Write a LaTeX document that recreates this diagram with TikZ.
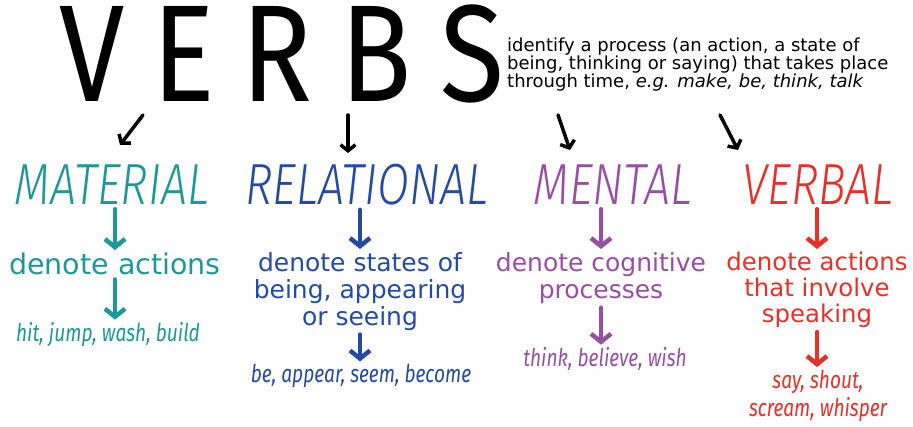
\documentclass[tikz,border=0pt]{standalone}
\usepackage{fontspec}
\setmainfont{DejaVu Sans}
\newfontfamily\headfont{Fira Sans Light Italic}[FakeStretch=0.8]
\newfontfamily\exfont{Fira Sans Italic}[FakeStretch=0.78]
\newfontfamily\bigfont{Fira Sans}[FakeStretch=0.85]
\usetikzlibrary{arrows.meta}

\definecolor{mteal}{RGB}{28,152,152}
\definecolor{rblue}{RGB}{36,74,164}
\definecolor{mpurple}{RGB}{152,78,162}
\definecolor{vred}{RGB}{234,46,40}

\tikzset{
  heading/.style={anchor=base, inner sep=0pt, font=\headfont\fontsize{58}{58}\selectfont},
  desc/.style={anchor=north, inner sep=0pt, align=center, font=\fontsize{25}{27}\selectfont},
  example/.style={anchor=base, inner sep=0pt, align=center, font=\exfont\fontsize{24.5}{28}\selectfont},
  down/.style={line width=4.5pt, line cap=round, shorten <=4pt, shorten >=3pt,
    -{Straight Barb[length=8pt,width=20pt,line width=4.5pt]}},
  blackarrow/.style={black, line width=3.5pt, line cap=round,
    -{Straight Barb[length=6pt,width=15pt,line width=3.5pt]}}
}

\begin{document}
\begin{tikzpicture}[x=1pt, y=-1pt]
    \useasboundingbox (0,0) rectangle (913,427);

    % big title, one letter at a time
    \foreach \l/\x in {V/92, E/184, R/277, B/376, S/472}
        \node[anchor=base, inner sep=0pt, font=\bigfont\fontsize{138}{138}\selectfont] (L\l) at (\x, 102) {\l};

    \node[anchor=north west, align=left, inner sep=0pt, font=\fontsize{18}{18}\selectfont] (def) at (507, 38)
        {identify a process (an action, a state of\\being, thinking or saying) that takes place\\through time, \textit{e.g. make, be, think, talk}};

    % the four kinds
    \node[heading, mteal] (mat) at (112, 205) {MATERIAL};
    \node[heading, rblue] (rel) at (367, 205) {RELATIONAL};
    \node[heading, mpurple] (men) at (613, 205) {MENTAL};
    \node[heading, vred] (vrb) at (818, 205) {VERBAL};

    \coordinate (s1) at (143, 115); \coordinate (e1) at (120, 145);
    \coordinate (s2) at (348, 115); \coordinate (e2) at (348, 153);
    \coordinate (s3) at (558, 115); \coordinate (e3) at (570, 150);
    \coordinate (s4) at (720, 115); \coordinate (e4) at (738, 150);
    \draw[blackarrow] (s1) -- (e1);
    \draw[blackarrow] (s2) -- (e2);
    \draw[blackarrow] (s3) -- (e3);
    \draw[blackarrow] (s4) -- (e4);

    \node[desc, mteal, font=\fontsize{28.5}{30}\selectfont] (matd) at (115, 253) {denote actions};
    \node[desc, rblue] (reld) at (360, 252) {denote states of\\being, appearing\\or seeing};
    \node[desc, mpurple] (mend) at (601, 252) {denote cognitive\\processes};
    \node[desc, vred, font=\fontsize{24.4}{26}\selectfont] (vrbd) at (817, 252) {denote actions\\that involve\\speaking};

    \node[example, mteal] (matx) at (108, 342) {hit, jump, wash, build};
    \node[example, rblue] (relx) at (361, 383) {be, appear, seem, become};
    \node[example, mpurple] (menx) at (605, 367) {think, believe, wish};
    \node[example, vred, anchor=north] (vrbx) at (818, 370) {say, shout,\\scream, whisper};

    \draw[down, mteal] (mat.south -| matd) -- (matd.north);
    \draw[down, rblue] (rel.south -| reld) -- (reld.north);
    \draw[down, mpurple] (men.south -| mend) -- (mend.north);
    \draw[down, vred] (vrb.south -| vrbd) -- (vrbd.north);

    \draw[down, mteal] (matd.south) -- (matd.south |- matx.north);
    \draw[down, rblue] (reld.south) -- (reld.south |- relx.north);
    \draw[down, mpurple] (mend.south) -- (mend.south |- menx.north);
    \draw[down, vred] (vrbd.south) -- (vrbd.south |- vrbx.north);
\end{tikzpicture}
\end{document}
